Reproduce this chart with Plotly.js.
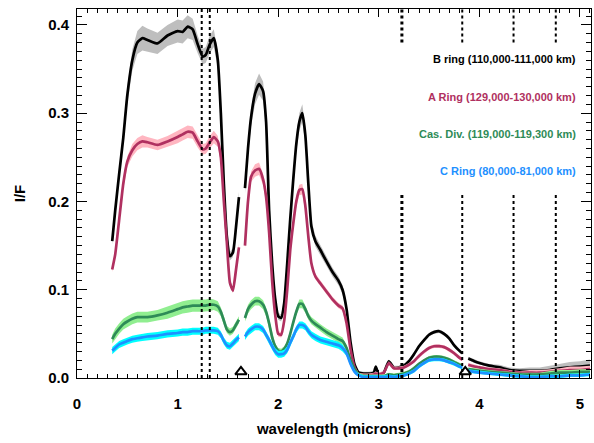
<!DOCTYPE html>
<html>
<head>
<meta charset="utf-8">
<script src="https://cdn.plot.ly/plotly-3.0.1.min.js"></script>
<style>html,body{margin:0;padding:0;background:#fff}</style>
</head>
<body>
<div id="chart" style="width:594px;height:443px"></div>
<script>
// wavelength grid (microns); null values mark gaps in the spectra
const wavelength = [
  0.35,0.38,0.42,0.46,0.50,0.55,0.60,0.65,0.70,0.80,
  0.90,1.00,1.05,1.10,1.15,1.20,1.25,1.28,1.32,1.36,
  1.40,1.43,1.46,1.49,1.52,1.55,1.58,1.61,1.64,1.67,
  1.70,1.73,1.77,1.81,1.85,1.88,1.91,1.94,1.97,2.00,
  2.03,2.06,2.09,2.12,2.15,2.18,2.21,2.24,2.27,2.30,
  2.33,2.37,2.42,2.48,2.54,2.60,2.64,2.68,2.72,2.76,
  2.80,2.85,2.90,2.95,2.97,3.00,3.05,3.10,3.15,3.20,
  3.25,3.30,3.35,3.40,3.45,3.50,3.55,3.60,3.65,3.70,
  3.75,3.80,3.83,3.86,3.89,3.95,4.00,4.10,4.20,4.30,
  4.40,4.50,4.60,4.70,4.80,4.90,5.00,5.10];

const bRing = [
  0.155,0.19,0.232,0.272,0.32,0.36,0.38,0.385,0.383,0.379,
  0.388,0.393,0.392,0.398,0.395,0.378,0.364,0.366,0.378,0.385,
  0.36,0.30,0.22,0.16,0.138,0.142,0.17,0.205,null,0.215,
  0.26,0.295,0.322,0.333,0.325,0.29,0.19,0.13,0.09,0.07,
  0.068,0.085,0.13,0.18,0.225,0.265,0.29,0.30,0.275,0.22,
  0.172,0.155,0.145,0.132,0.12,0.11,0.10,0.078,0.04,0.015,
  0.006,0.005,0.005,0.006,0.013,0.004,0.006,0.019,0.012,0.012,
  0.014,0.019,0.027,0.036,0.043,0.049,0.052,0.053,0.05,0.045,
  0.037,0.031,0.028,null,0.022,0.019,0.017,0.014,0.012,0.009,
  0.008,0.008,0.008,0.009,0.011,0.012,0.013,0.014];
const bErr = [
  0.004,0.005,0.006,0.008,0.010,0.012,0.013,0.014,0.013,0.012,
  0.012,0.013,0.013,0.013,0.012,0.010,0.009,0.009,0.010,0.010,
  0.009,0.008,0.006,0.005,0.005,0.005,0.005,0.006,null,0.006,
  0.008,0.010,0.012,0.012,0.011,0.009,0.007,0.005,0.004,0.004,
  0.004,0.004,0.005,0.006,0.008,0.009,0.010,0.010,0.009,0.007,
  0.006,0.006,0.005,0.005,0.005,0.005,0.005,0.004,0.003,0.002,
  0.002,0.002,0.002,0.002,0.002,0.002,0.002,0.002,0.002,0.002,
  0.002,0.002,0.002,0.002,0.002,0.002,0.002,0.002,0.002,0.002,
  0.002,0.002,0.002,null,0.002,0.002,0.002,0.002,0.003,0.003,
  0.003,0.004,0.004,0.005,0.005,0.006,0.006,0.007];

const aRing = [
  0.123,0.14,0.18,0.22,0.245,0.258,0.265,0.268,0.267,0.264,
  0.268,0.273,0.276,0.279,0.278,0.268,0.259,0.260,0.267,0.273,
  0.268,0.25,0.20,0.153,0.108,0.099,0.122,0.148,null,0.15,
  0.20,0.228,0.235,0.237,0.225,0.205,0.165,0.11,0.072,0.05,
  0.049,0.065,0.10,0.145,0.175,0.20,0.213,0.214,0.195,0.16,
  0.13,0.115,0.107,0.098,0.089,0.082,0.079,0.062,0.032,0.012,
  0.004,0.003,0.003,0.004,0.005,0.004,0.006,0.017,0.011,0.011,
  0.012,0.015,0.019,0.025,0.03,0.034,0.036,0.036,0.035,0.032,
  0.028,0.023,0.021,null,0.015,0.013,0.012,0.010,0.009,0.007,
  0.006,0.006,0.006,0.007,0.008,0.009,0.009,0.010];
const aErr = [
  0.003,0.004,0.005,0.006,0.006,0.007,0.007,0.007,0.006,0.006,
  0.006,0.007,0.007,0.007,0.007,0.007,0.006,0.006,0.007,0.007,
  0.006,0.005,0.004,0.003,0.003,0.003,0.003,0.004,null,0.004,
  0.005,0.006,0.007,0.007,0.006,0.005,0.004,0.003,0.003,0.003,
  0.003,0.003,0.003,0.004,0.005,0.006,0.006,0.006,0.005,0.004,
  0.003,0.003,0.003,0.003,0.003,0.003,0.003,0.002,0.002,0.002,
  0.002,0.002,0.002,0.002,0.002,0.002,0.002,0.002,0.002,0.002,
  0.002,0.002,0.002,0.002,0.002,0.002,0.002,0.002,0.002,0.002,
  0.002,0.002,0.002,null,0.002,0.002,0.002,0.002,0.002,0.002,
  0.002,0.003,0.003,0.003,0.003,0.004,0.004,0.004];

const casDiv = [
  0.044,0.05,0.056,0.061,0.064,0.067,0.069,0.069,0.069,0.071,
  0.074,0.078,0.080,0.081,0.082,0.082,0.082,0.082,0.083,0.083,
  0.081,0.075,0.065,0.055,0.052,0.054,0.060,0.066,null,0.068,
  0.078,0.083,0.087,0.087,0.083,0.075,0.062,0.046,0.036,0.031,
  0.030,0.033,0.039,0.05,0.063,0.075,0.084,0.084,0.078,0.070,
  0.065,0.061,0.057,0.052,0.048,0.044,0.042,0.034,0.02,0.01,
  0.004,0.002,0.002,0.002,0.002,0.002,0.002,0.004,0.003,0.004,
  0.005,0.007,0.011,0.016,0.02,0.023,0.024,0.024,0.023,0.021,
  0.018,0.015,0.014,null,0.010,0.009,0.008,0.007,0.006,0.005,
  0.004,0.004,0.004,0.005,0.006,0.006,0.007,0.007];
const casErr = [
  0.005,0.006,0.006,0.006,0.006,0.006,0.006,0.006,0.006,0.006,
  0.007,0.007,0.007,0.007,0.007,0.007,0.007,0.007,0.007,0.006,
  0.006,0.005,0.005,0.004,0.004,0.004,0.004,0.004,null,0.004,
  0.005,0.005,0.005,0.005,0.005,0.005,0.004,0.004,0.003,0.003,
  0.003,0.003,0.003,0.004,0.004,0.004,0.005,0.005,0.004,0.004,
  0.004,0.004,0.004,0.004,0.004,0.004,0.004,0.003,0.003,0.002,
  0.002,0.002,0.002,0.002,0.002,0.002,0.002,0.002,0.002,0.002,
  0.002,0.002,0.002,0.002,0.002,0.002,0.002,0.002,0.002,0.002,
  0.002,0.002,0.002,null,0.002,0.002,0.002,0.002,0.002,0.002,
  0.002,0.002,0.002,0.003,0.003,0.003,0.003,0.003];

const cRing = [
  0.031,0.034,0.038,0.040,0.042,0.044,0.045,0.046,0.047,0.048,
  0.050,0.051,0.052,0.052,0.053,0.053,0.053,0.054,0.054,0.054,
  0.053,0.049,0.042,0.037,0.036,0.039,0.043,0.046,null,0.047,
  0.052,0.055,0.058,0.058,0.055,0.049,0.043,0.036,0.030,0.027,
  0.027,0.028,0.032,0.040,0.047,0.055,0.060,0.060,0.058,0.053,
  0.049,0.046,0.043,0.041,0.039,0.037,0.034,0.028,0.016,0.007,
  0.003,0.001,0.001,0.001,0.001,0.001,0.001,0.002,0.001,0.002,
  0.003,0.005,0.008,0.013,0.017,0.020,0.021,0.021,0.020,0.018,
  0.016,0.013,0.012,null,0.008,0.007,0.006,0.005,0.004,0.003,
  0.002,0.001,0.001,0.002,0.002,0.003,0.003,0.004];
const cErr = [
  0.004,0.004,0.004,0.004,0.004,0.004,0.004,0.004,0.004,0.004,
  0.004,0.004,0.004,0.004,0.004,0.004,0.004,0.004,0.004,0.004,
  0.004,0.004,0.004,0.004,0.004,0.004,0.004,0.004,null,0.004,
  0.004,0.004,0.004,0.004,0.004,0.004,0.004,0.004,0.004,0.004,
  0.004,0.004,0.004,0.004,0.004,0.004,0.004,0.004,0.004,0.004,
  0.004,0.004,0.004,0.004,0.004,0.004,0.004,0.003,0.003,0.002,
  0.002,0.002,0.002,0.002,0.002,0.002,0.002,0.002,0.002,0.002,
  0.002,0.002,0.002,0.002,0.002,0.002,0.002,0.002,0.002,0.002,
  0.002,0.002,0.002,null,0.002,0.002,0.002,0.002,0.002,0.002,
  0.002,0.002,0.002,0.002,0.002,0.002,0.002,0.002];

const seriesNames = ["B ring (110,000-111,000 km)", "A Ring (129,000-130,000 km)",
                     "Cas. Div. (119,000-119,300 km)", "C Ring (80,000-81,000 km)"];
const labelY = [0.361, 0.318, 0.276, 0.234];

// vertical dotted marker lines (microns); full-height and split ones
const fullLines = [1.24, 1.32];
const splitLines = [3.23, 3.83, 4.34, 4.76];
const splitTop = 0.38, splitBottom = 0.209;
// open triangles along the bottom
const triX = [1.63, 3.86];
const triY = [0.007, 0.007];

const xRange = [0, 5.11], yRange = [0, 0.418];

const lineColors = ["#000000", "#b03060", "#2e8b57", "#1e90ff"];
const bandColors = ["#bebebe", "#ffb6c1", "#90ee90", "#00ffff"];
const allY = [bRing, aRing, casDiv, cRing];
const allErr = [bErr, aErr, casErr, cErr];

const traces = [];
function segments(x, y) {
  const segs = []; let cur = [];
  for (let i = 0; i < x.length; i++) {
    if (y[i] === null) { if (cur.length) segs.push(cur); cur = []; }
    else cur.push(i);
  }
  if (cur.length) segs.push(cur);
  return segs;
}
for (let s = 0; s < 4; s++) {
  const y = allY[s], e = allErr[s];
  segments(wavelength, y).forEach(idx => {
    const px = [], py = [];
    idx.forEach(i => { px.push(wavelength[i]); py.push(y[i] + e[i]); });
    idx.slice().reverse().forEach(i => { px.push(wavelength[i]); py.push(Math.max(0, y[i] - e[i])); });
    traces.push({x: px, y: py, type: 'scatter', mode: 'lines', fill: 'toself',
      fillcolor: bandColors[s], line: {width: 0}, hoverinfo: 'skip', showlegend: false});
  });
  traces.push({x: wavelength, y: y, type: 'scatter', mode: 'lines', name: seriesNames[s],
    connectgaps: false, line: {color: lineColors[s], width: 2.7, shape: 'spline', smoothing: 0.5},
    showlegend: false});
}
traces.push({x: triX, y: triY, type: 'scatter', mode: 'markers', showlegend: false,
  marker: {symbol: 'triangle-up-open', size: 10, color: '#000', line: {width: 2, color: '#000'}}});

const shapes = [];
fullLines.forEach(v => shapes.push({type: 'line', xref: 'x', yref: 'y', x0: v, x1: v, y0: yRange[0], y1: yRange[1],
  line: {color: '#000', width: 2, dash: 'dot'}}));
splitLines.forEach((v, k) => {
  const w = k === 0 ? 3 : 2;
  shapes.push({type: 'line', xref: 'x', yref: 'y', x0: v, x1: v, y0: splitTop, y1: yRange[1],
    line: {color: '#000', width: w, dash: 'dot'}});
  shapes.push({type: 'line', xref: 'x', yref: 'y', x0: v, x1: v, y0: 0, y1: splitBottom,
    line: {color: '#000', width: w, dash: 'dot'}});
});

const annotations = seriesNames.map((t, s) => ({
  x: 4.985, y: labelY[s], xref: 'x', yref: 'y', xanchor: 'right', yanchor: 'middle',
  text: t, showarrow: false,
  font: {family: 'Liberation Sans, Arial, sans-serif', size: 11, weight: 'bold', color: lineColors[s]}
}));

const axFont = {family: 'Liberation Sans, Arial, sans-serif', size: 15, weight: 'bold', color: '#000'};
const tickCommon = {ticks: 'inside', tickwidth: 1, tickcolor: '#000', showline: true, linecolor: '#000',
  linewidth: 1, showgrid: false, zeroline: false, mirror: 'allticks'};
const layout = {
  width: 594, height: 443,
  margin: {l: 77, r: 3, t: 9, b: 65},
  paper_bgcolor: '#fff', plot_bgcolor: '#fff',
  showlegend: false,
  xaxis: Object.assign({range: xRange, dtick: 1, tick0: 0, ticklen: 8, tickfont: axFont, ticklabelstandoff: 12,
    minor: {dtick: 0.1, tick0: 0, ticks: 'inside', ticklen: 4, tickwidth: 1, tickcolor: '#000', showgrid: false},
    title: {text: 'wavelength (microns)', font: axFont, standoff: 12}}, tickCommon),
  yaxis: Object.assign({range: yRange, dtick: 0.1, tick0: 0, tickformat: '.1f', ticklen: 10,
    tickfont: axFont, ticklabelstandoff: 4,
    minor: {dtick: 0.01, tick0: 0, ticks: 'inside', ticklen: 5, tickwidth: 1, tickcolor: '#000', showgrid: false},
    title: {text: 'I/F', font: axFont, standoff: 18}}, tickCommon),
  shapes: shapes,
  annotations: annotations
};
Plotly.newPlot('chart', traces, layout, {displayModeBar: false, staticPlot: true});
</script>
</body>
</html>
